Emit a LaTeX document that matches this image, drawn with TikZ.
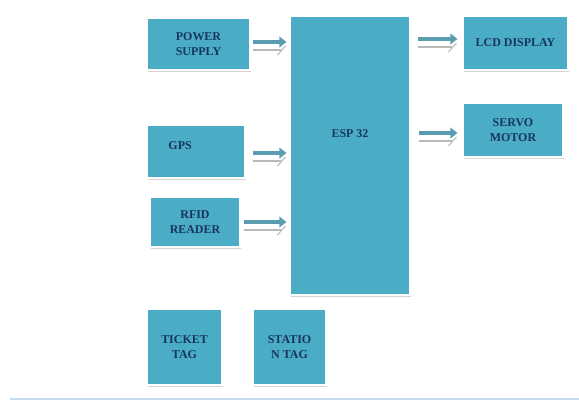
\documentclass[tikz,border=0pt]{standalone}
\usepackage{fontspec}
\setmainfont{Liberation Serif}
\usetikzlibrary{calc,shadows,arrows.meta}
\definecolor{boxteal}{HTML}{4BACC6}
\definecolor{labelnavy}{HTML}{17365D}
\definecolor{arrowteal}{HTML}{5A9DB0}
\definecolor{ruleblue}{HTML}{C6DBEF}
\begin{document}
\begin{tikzpicture}[x=0.02cm,y=-0.02cm,
    blockbox/.style 2 args={fill=boxteal, draw=white, line width=0.6pt,
      minimum width=#1*0.02cm, minimum height=#2*0.02cm, inner sep=0pt,
      font=\fontsize{6.8}{8.5}\selectfont\bfseries, text=labelnavy, align=center,
      drop shadow={shadow xshift=0.4pt, shadow yshift=-1.2pt, opacity=0.35}},
    blocklabel/.style={font=\fontsize{6.8}{8.5}\selectfont\bfseries, text=labelnavy},
    sigarrow/.style={draw=arrowteal, line width=2.2pt, -{Triangle[length=4pt,width=6pt]}},
    sigshadow/.style={draw=gray!55, line width=0.6pt}]
  \useasboundingbox (0,0) rectangle (579,402);
  % blocks
  \node[blockbox={103}{52}] (power) at (198.5,44) {POWER\\SUPPLY};
  \node[blockbox={98}{53}, label={[blocklabel, anchor=north west, xshift=9pt, yshift=-6pt]north west:GPS}] (gps) at (196,151.5) {};
  \node[blockbox={90}{50}] (rfid) at (195,222) {RFID\\READER};
  \node[blockbox={120}{279}, label={[blocklabel, yshift=12.5pt]center:ESP 32}] (esp) at (350,155.5) {};
  \node[blockbox={105}{54}] (lcd) at (515.5,43) {LCD DISPLAY};
  \node[blockbox={100}{54}] (servo) at (513,130) {SERVO\\MOTOR};
  \node[blockbox={75}{76}] (ticket) at (184.5,347) {TICKET\\TAG};
  \node[blockbox={73}{76}] (station) at (289.5,347) {STATIO\\N TAG};
  % arrows into the ESP 32
  \foreach \src/\dx/\dy in {power/2/-2, gps/7/1.5, rfid/3/0} {
    \coordinate (s) at ($(\src.east)+(\dx,\dy)$);
    \coordinate (e) at ($(esp.west |- s)+(-3,0)$);
    \draw[sigshadow] ($(s)+(0,8)$) -- ($(e)+(-5,8)$);
    \draw[sigshadow] ($(e)+(-9,13)$) -- ($(e)+(-1,4)$);
    \draw[sigarrow] (s) -- (e);
  }
  % arrows out of the ESP 32
  \foreach \dst/\dx/\dy in {lcd/7/-4, servo/8/3} {
    \coordinate (s) at ($(esp.east |- \dst.west)+(\dx,\dy)$);
    \coordinate (e) at ($(\dst.west |- s)+(-5,0)$);
    \draw[sigshadow] ($(s)+(0,8)$) -- ($(e)+(-5,8)$);
    \draw[sigshadow] ($(e)+(-9,13)$) -- ($(e)+(-1,4)$);
    \draw[sigarrow] (s) -- (e);
  }
  \draw[ruleblue, line width=1.2pt] (10,399) -- (579,399);
\end{tikzpicture}
\end{document}
